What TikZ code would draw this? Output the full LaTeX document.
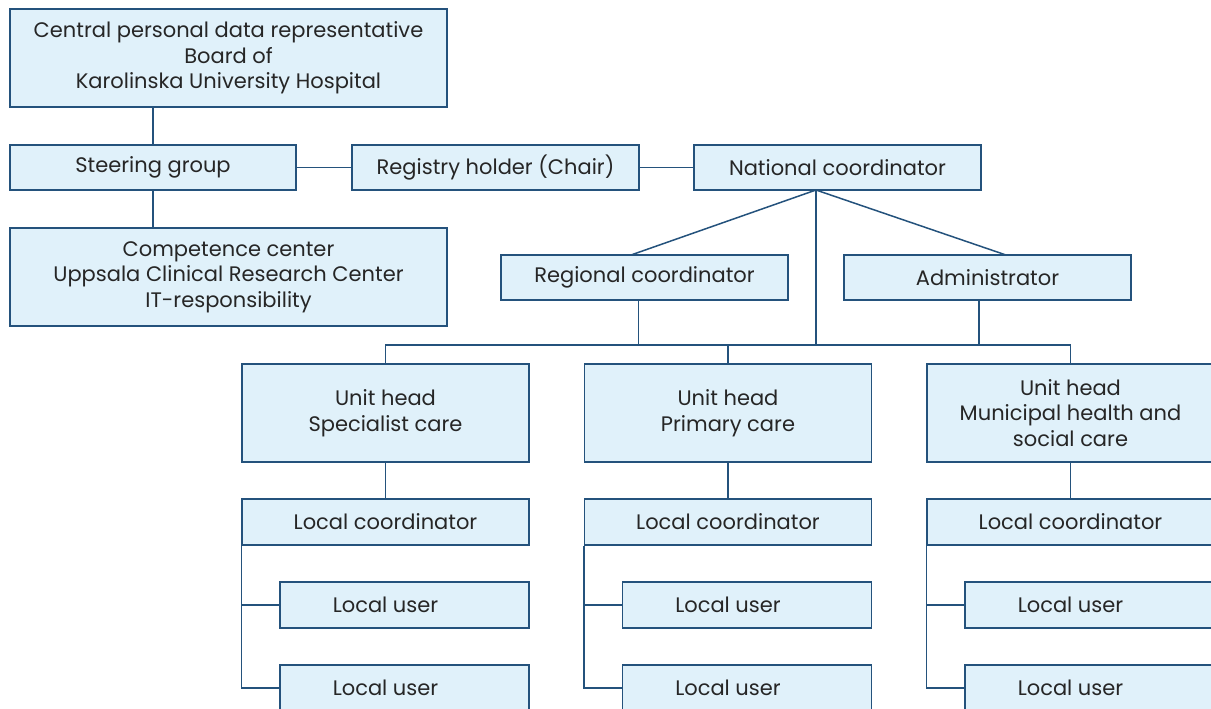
\documentclass[tikz,border=0pt]{standalone}
\usepackage{fontspec}
\setmainfont{Poppins}
\usetikzlibrary{calc}
\definecolor{boxfill}{HTML}{E0F1FA}
\definecolor{boxline}{HTML}{24527C}
\definecolor{txt}{HTML}{262626}
\tikzset{
  orgfont/.style={font=\fontsize{21}{25.5}\selectfont, text=txt},
  orgbox/.style={draw=boxline, fill=boxfill, line width=1.5pt, inner sep=0pt,
    minimum width=287pt, minimum height=45pt, align=center, orgfont},
  wide/.style={minimum width=437pt, minimum height=98pt},
  tall/.style={minimum height=98pt},
  userbox/.style={orgbox, minimum width=249pt, minimum height=46pt,
    label={[orgfont, xshift=-19pt]center:Local user}},
  link/.style={draw=boxline, line width=1.5pt},
}
\begin{document}
\begin{tikzpicture}[x=1pt, y=-1pt]
  \useasboundingbox (0,0) rectangle (1211,709);
  \clip (0,0) rectangle (1211,709);

  % governance column
  \node[orgbox, wide] (board) at (228.5,58) {Central personal data representative\\Board of\\Karolinska University Hospital};
  \node[orgbox, minimum width=286pt] (steer) at (153,167.5) {Steering group};
  \node[orgbox, wide] (comp) at (228.5,277) {Competence center\\Uppsala Clinical Research Center\\IT-responsibility};
  \node[orgbox] (chair) at (495.5,167.5) {Registry holder (Chair)};
  \node[orgbox] (nat) at (837.5,167.5) {National coordinator};
  \node[orgbox] (reg) at (644.5,277.5) {Regional coordinator};
  \node[orgbox] (adm) at (987.5,277.5) {Administrator};

  \draw[link] (board.south -| steer.north) -- (steer.north);
  \draw[link] (steer.south) -- (steer.south |- comp.north);
  \draw[link] (steer.east) -- (chair.west);
  \draw[link] (chair.east) -- (nat.west);

  % national coordinator fan-out
  \coordinate (natb) at (816,190);
  \coordinate (regt) at (631,255);
  \coordinate (admt) at (1006,255);
  \coordinate (bus) at (816,345);
  \draw[link] (natb) -- (regt);
  \draw[link] (natb) -- (admt);
  \draw[link] (natb) -- (bus);
  \draw[link] (reg.south -| 638.7,0) -- (638.7,345);
  \draw[link] (adm.south -| 979,0) -- (979,345);

  % unit columns
  \foreach \cx/\nm/\tx in {385.5/a/{Unit head\\Specialist care},
                           728/b/{Unit head\\Primary care},
                           1070.5/c/{Unit head\\Municipal health and\\social care}} {
    \node[orgbox, tall] (head\nm) at (\cx,413) {\tx};
    \node[orgbox, minimum height=46pt] (loc\nm) at (\cx,522) {Local coordinator};
    \node[userbox] (usra\nm) at (\cx+19,605) {};
    \node[userbox] (usrb\nm) at (\cx+19,688) {};
    \draw[link] (head\nm.south) -- (loc\nm.north);
    \draw[link] (loc\nm.south west) |- (usrb\nm.west);
    \draw[link] (loc\nm.south west |- usra\nm.west) -- (usra\nm.west);
  }
  \draw[link] (heada.north) |- (386,345) -- (1070.5,345) -- (headc.north);
  \draw[link] (headb.north) -- (728,345);
\end{tikzpicture}
\end{document}
